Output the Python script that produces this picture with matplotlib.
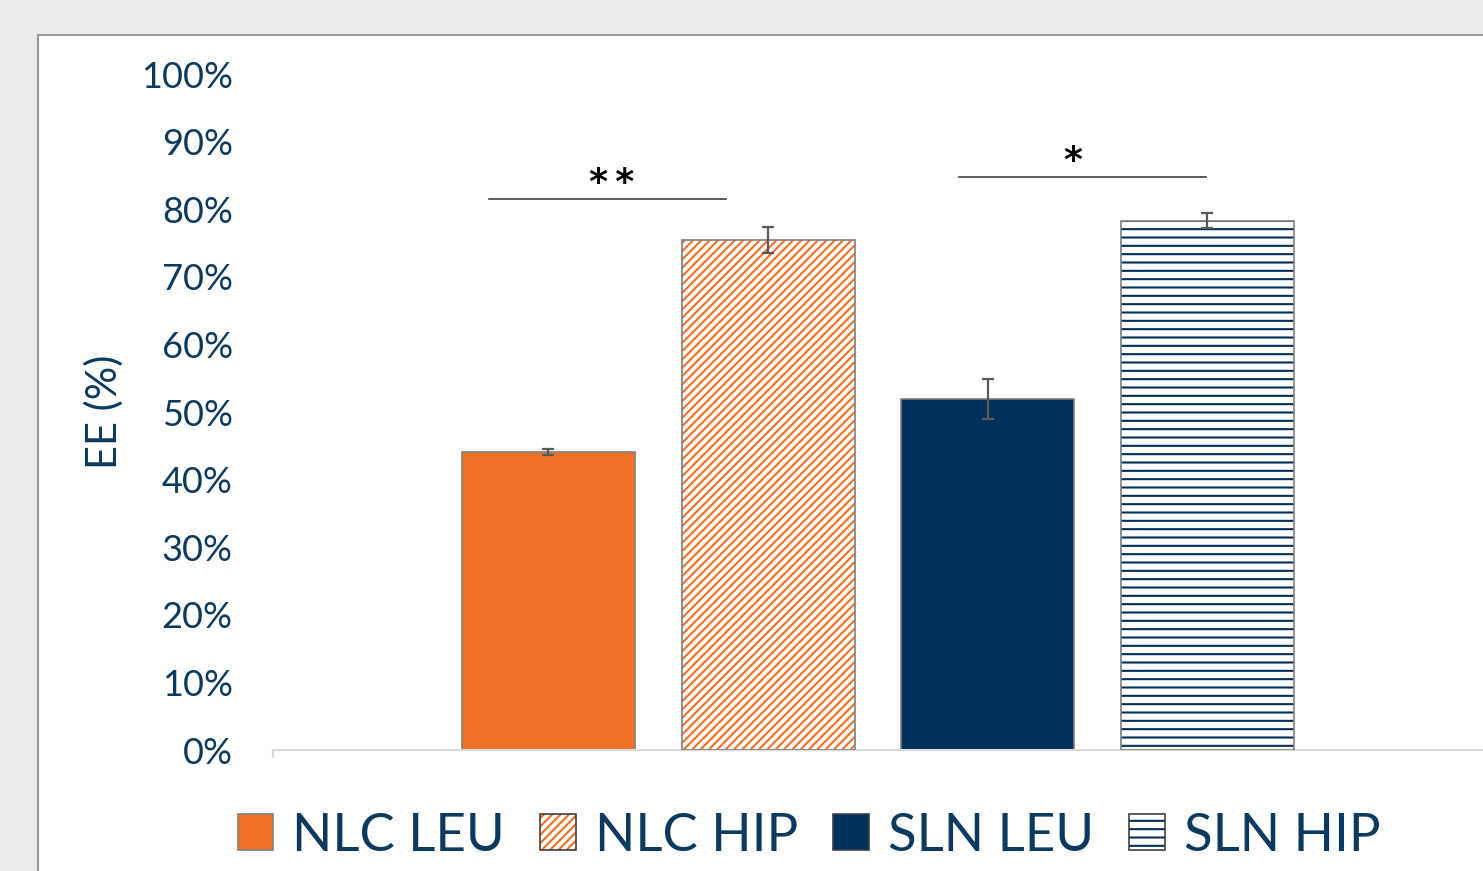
import matplotlib
matplotlib.use("Agg")
import matplotlib.pyplot as plt
from matplotlib.patches import Rectangle, Patch

# Encapsulation efficiency data (fractions)
labels = ["NLC LEU", "NLC HIP", "SLN LEU", "SLN HIP"]
values = [0.441, 0.754, 0.519, 0.783]
errors = [0.005, 0.019, 0.030, 0.011]
yticks = [0.0, 0.1, 0.2, 0.3, 0.4, 0.5, 0.6, 0.7, 0.8, 0.9, 1.0]
ytick_labels = ["0%", "10%", "20%", "30%", "40%", "50%", "60%", "70%", "80%", "90%", "100%"]
# significance brackets: (line start, line end, line height, label, label x)
sig_brackets = [(-0.271, 0.809, 0.815, "*\u2009*", 0.289),
                (1.870, 2.995, 0.848, "*", 2.390)]

orange = "#F07026"
navy = "#00305A"
text_col = "#0B3A5E"
edge_gray = "#7F7F7F"

plt.rcParams["font.family"] = ["Lato", "DejaVu Sans"]
plt.rcParams["hatch.linewidth"] = 1.5

W, H = 1483, 871
fig = plt.figure(figsize=(W / 100, H / 100), dpi=100, facecolor="#ECECEC")

# white chart panel with grey frame
panel = Rectangle((38 / W, -0.05), 1.2, (H - 35) / H + 0.05, transform=fig.transFigure,
                  facecolor="white", edgecolor="#9A9A9A", linewidth=1.5, zorder=-5)
fig.patches.append(panel)

ax = fig.add_axes([273 / W, (H - 750) / H, 1 - 273 / W, (750 - 74) / H])
ax.set_facecolor("none")

x = list(range(len(values)))
width = 0.788
faces = [orange, "white", navy, "white"]
hatches = [None, "////", None, "--"]
hatch_cols = [orange, orange, navy, navy]

for i in x:
    if hatches[i]:
        ax.bar(x[i], values[i], width, color="white", edgecolor=hatch_cols[i],
               hatch=hatches[i], linewidth=0, zorder=2)
        ax.bar(x[i], values[i], width, color="none", edgecolor=edge_gray,
               linewidth=1.2, zorder=3)
    else:
        ax.bar(x[i], values[i], width, color=faces[i], edgecolor=edge_gray,
               linewidth=1.2, zorder=2)

ax.errorbar(x, values, yerr=errors, fmt="none", ecolor="#595959",
            elinewidth=1.6, capsize=4.5, capthick=1.6, zorder=4)

for x0, x1, h, lab, xl in sig_brackets:
    ax.plot([x0, x1], [h, h], color="#404040", linewidth=1.2, zorder=4, clip_on=False)
    ax.text(xl, h + 0.009, lab, ha="center", va="baseline",
            fontsize=26, fontweight="bold", color="black", family="DejaVu Sans")

ax.set_xlim(-1.255, 4.257)
ax.set_ylim(0, 1.0)
ax.set_yticks(yticks)
ax.set_yticklabels(ytick_labels)
ax.tick_params(axis="y", length=0, pad=29, labelsize=26, labelcolor=text_col)
ax.set_xticks([-1.255])
ax.set_xticklabels([""])
ax.tick_params(axis="x", length=6, width=1.5, color="#D9D9D9")
for s in ["top", "right", "left"]:
    ax.spines[s].set_visible(False)
ax.spines["bottom"].set_color("#D9D9D9")
ax.spines["bottom"].set_linewidth(1.5)
ax.set_ylabel("EE (%)", fontsize=30, color=text_col)
ax.yaxis.set_label_coords(-0.123, 0.5)

outline = Patch(facecolor="none", edgecolor="#404040", linewidth=1.2)
handles = [
    Patch(facecolor=orange, edgecolor=edge_gray, linewidth=1.2),
    (Patch(facecolor="white", edgecolor=orange, hatch="////", linewidth=0), outline),
    Patch(facecolor=navy, edgecolor="#404040", linewidth=1.2),
    (Patch(facecolor="white", edgecolor=navy, hatch="--", linewidth=0), outline),
]
leg = fig.legend(handles, labels, loc="center", bbox_to_anchor=(809 / W, (H - 836) / H),
                 ncol=4, frameon=False, fontsize=38, labelcolor=text_col,
                 handlelength=0.68, handleheight=0.68, handletextpad=0.36,
                 columnspacing=0.66)

fig.savefig("out.png", dpi=100, facecolor=fig.get_facecolor())
